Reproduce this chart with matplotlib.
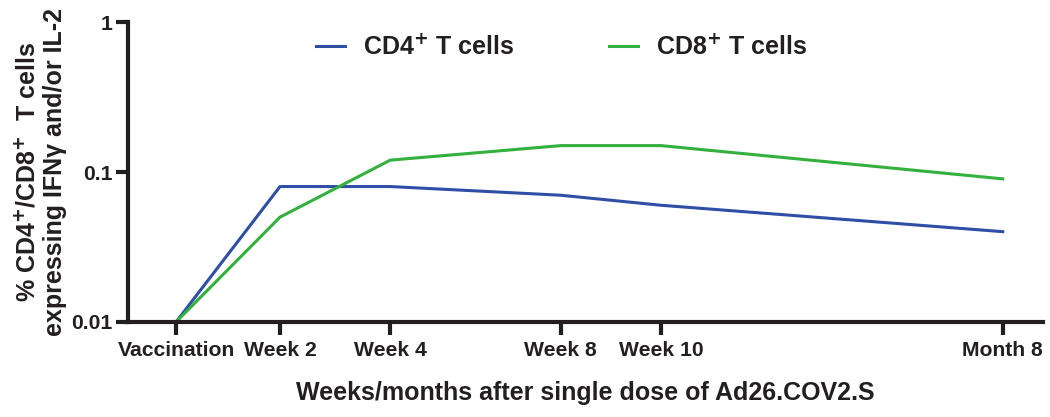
import matplotlib
matplotlib.use('Agg')
import matplotlib.pyplot as plt

plt.rcParams['font.family'] = ['Liberation Sans', 'DejaVu Sans']
plt.rcParams['font.weight'] = 'bold'
plt.rcParams['mathtext.default'] = 'bf'

timepoints = ['Vaccination', 'Week 2', 'Week 4', 'Week 8', 'Week 10', 'Month 8']
cd4 = [0.01, 0.08, 0.08, 0.07, 0.06, 0.04]
cd8 = [0.01, 0.05, 0.12, 0.15, 0.15, 0.09]

# spacing of the time points along the axis (as drawn in the figure)
xpos = [0, 1.98, 4.08, 7.33, 9.24, 15.75]

ink = '#231f20'

fig = plt.figure(figsize=(10.5, 4.17), dpi=100)
ax = fig.add_axes([0.122, 0.228, 0.871, 0.719])

ax.plot(xpos, cd4, color='#2f4fa6', linewidth=2.2, label='CD4$^{+}$ T cells')
ax.plot(xpos, cd8, color='#33b03d', linewidth=2.2, label='CD8$^{+}$ T cells')

ax.set_yscale('log')
ax.set_ylim(0.01, 1)
ax.set_xlim(-0.914, 16.51)
ax.set_yticks([0.01, 0.1, 1])
ax.set_yticklabels(['0.01', '0.1', '1'])
ax.yaxis.set_minor_locator(matplotlib.ticker.NullLocator())
ax.set_xticks(xpos)
ax.set_xticklabels(timepoints)

for s in ['top', 'right']:
    ax.spines[s].set_visible(False)
for s in ['left', 'bottom']:
    ax.spines[s].set_linewidth(3)
    ax.spines[s].set_color(ink)
ax.tick_params(axis='both', width=3, length=9, color=ink,
               labelsize=15.2, labelcolor=ink)
ax.tick_params(axis='x', pad=5)
ax.tick_params(axis='y', pad=2)

ax.set_ylabel('% CD4$^{+}$/CD8$^{+}$  T cells\nexpressing IFNγ and/or IL-2',
              fontsize=18, fontweight='bold', color=ink, labelpad=3,
              linespacing=1.2)
ax.set_xlabel('Weeks/months after single dose of Ad26.COV2.S',
              fontsize=18, fontweight='bold', color=ink, labelpad=15)

leg = fig.legend(*ax.get_legend_handles_labels(), loc='center left',
                 bbox_to_anchor=(316 / 1050, 1 - 47 / 417),
                 bbox_transform=fig.transFigure, ncol=2, frameon=False,
                 fontsize=18, handlelength=1.16, handletextpad=0.72,
                 columnspacing=3.8, borderpad=0, borderaxespad=0)
for t in leg.get_texts():
    t.set_color(ink)

fig.savefig('out.png', dpi=100)
